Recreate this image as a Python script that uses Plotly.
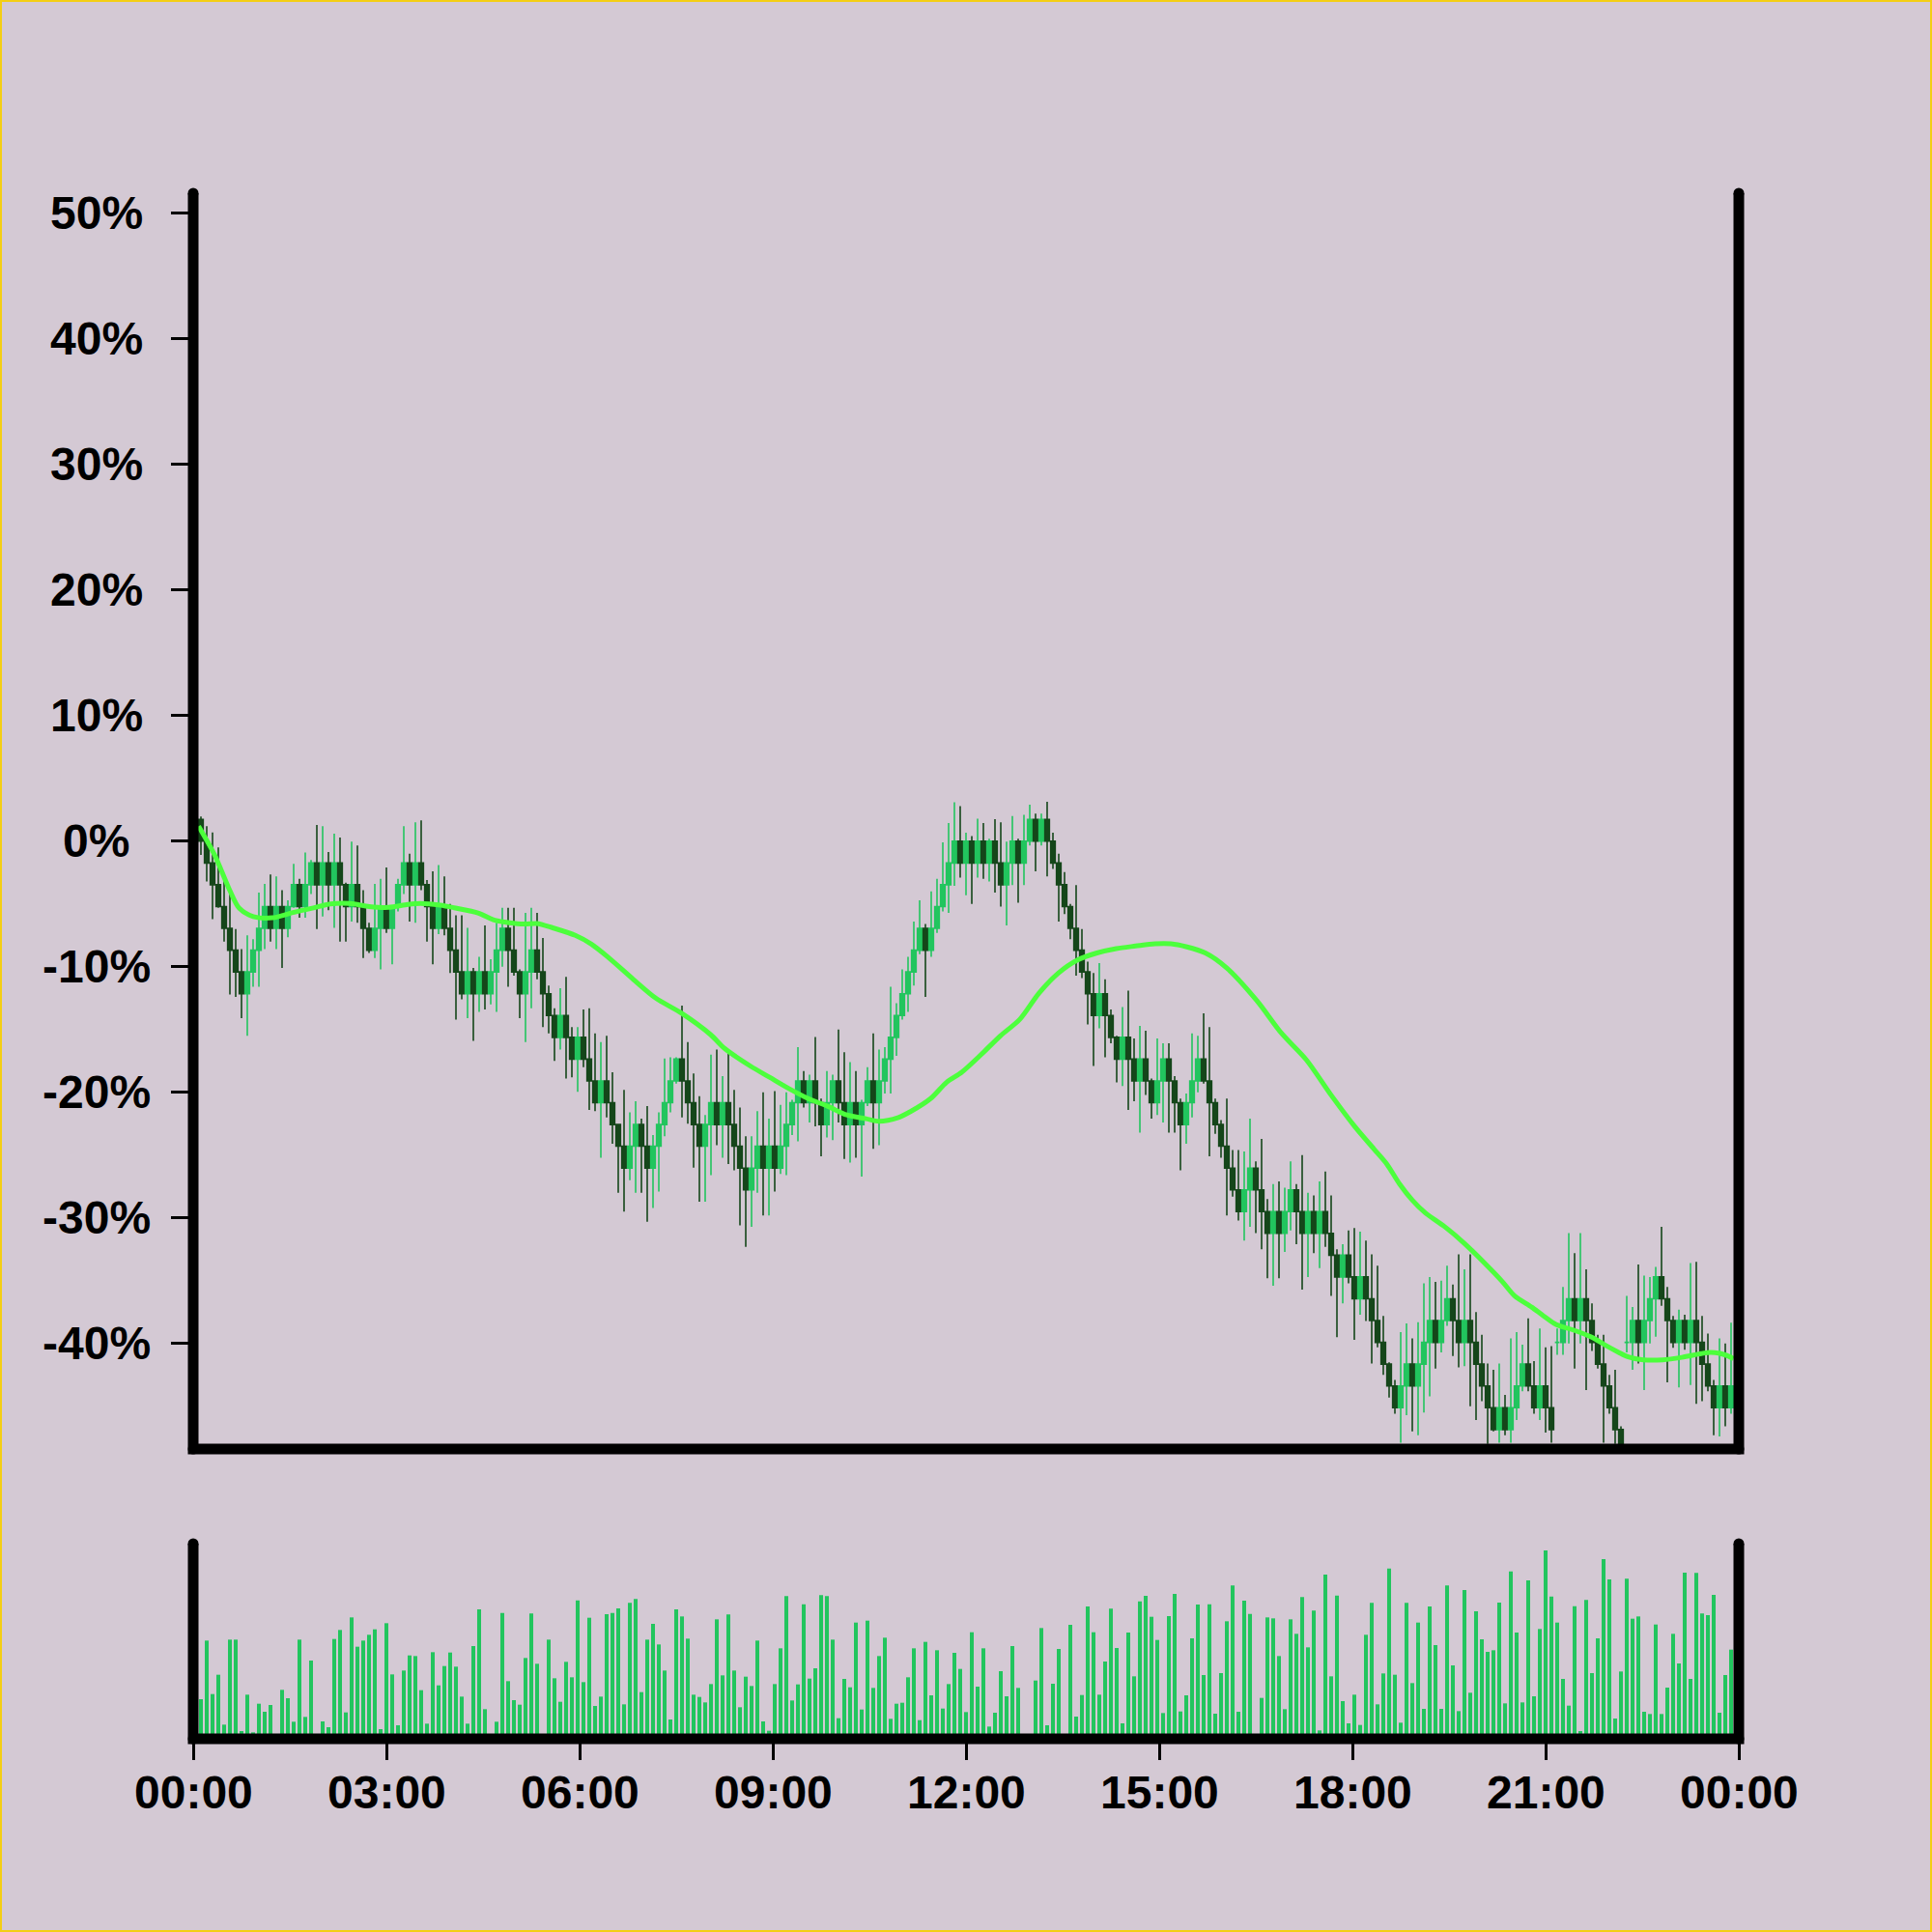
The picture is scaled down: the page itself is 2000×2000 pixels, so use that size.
import pandas as pd
import plotly.graph_objects as go

# ---------------- data ----------------
times = pd.date_range("2024-01-01 00:07:12", periods=265, freq="324s")

open_pct = [
    1.74, 0.0, -1.74, -3.47, -5.21, -6.94, -8.68, -10.41, -12.15, -10.41,
    -8.68, -6.94, -5.21, -6.94, -5.21, -6.94, -5.21, -3.47, -5.21, -3.47,
    -1.74, -3.47, -1.74, -3.47, -1.74, -3.47, -5.21, -3.47, -5.21, -6.94,
    -8.68, -6.94, -5.21, -6.94, -5.21, -3.47, -1.74, -3.47, -1.74, -3.47,
    -5.21, -6.94, -5.21, -6.94, -8.68, -10.41, -12.15, -10.41, -12.15, -10.41,
    -12.15, -10.41, -8.68, -6.94, -8.68, -10.41, -12.15, -10.41, -8.68, -10.41,
    -12.15, -13.88, -15.62, -13.88, -15.62, -17.35, -15.62, -17.35, -19.09, -20.82,
    -19.09, -20.82, -22.56, -24.29, -26.03, -24.29, -22.56, -24.29, -26.03, -24.29,
    -22.56, -20.82, -19.09, -17.35, -19.09, -20.82, -22.56, -24.29, -22.56, -20.82,
    -22.56, -20.82, -22.56, -24.29, -26.03, -27.76, -26.03, -24.29, -26.03, -24.29,
    -26.03, -24.29, -22.56, -20.82, -19.09, -20.82, -19.09, -20.82, -22.56, -20.82,
    -19.09, -20.82, -22.56, -20.82, -22.56, -20.82, -19.09, -20.82, -19.09, -17.35,
    -15.62, -13.88, -12.15, -10.41, -8.68, -6.94, -8.68, -6.94, -5.21, -3.47,
    -1.74, 0.0, -1.74, 0.0, -1.74, 0.0, -1.74, 0.0, -1.74, -3.47,
    -1.74, 0.0, -1.74, 0.0, 1.74, 0.0, 1.74, 0.0, -1.74, -3.47,
    -5.21, -6.94, -8.68, -10.41, -12.15, -13.88, -12.15, -13.88, -15.62, -17.35,
    -15.62, -17.35, -19.09, -17.35, -19.09, -20.82, -19.09, -17.35, -19.09, -20.82,
    -22.56, -20.82, -19.09, -17.35, -19.09, -20.82, -22.56, -24.29, -26.03, -27.76,
    -29.50, -27.76, -26.03, -27.76, -29.50, -31.23, -29.50, -31.23, -29.50, -27.76,
    -29.50, -31.23, -29.50, -31.23, -29.50, -31.23, -32.97, -34.70, -32.97, -34.70,
    -36.44, -34.70, -36.44, -38.17, -39.91, -41.64, -43.38, -45.11, -43.38, -41.64,
    -43.38, -41.64, -39.91, -38.17, -39.91, -38.17, -36.44, -38.17, -39.91, -38.17,
    -39.91, -41.64, -43.38, -45.11, -46.85, -45.11, -46.85, -45.11, -43.38, -41.64,
    -43.38, -45.11, -43.38, -45.11, -39.91, -39.91, -38.17, -36.44, -38.17, -36.44,
    -38.17, -39.91, -41.64, -43.38, -45.11, -46.85, -39.91, -39.91, -38.17, -39.91,
    -38.17, -36.44, -34.70, -36.44, -38.17, -39.91, -38.17, -39.91, -38.17, -39.91,
    -41.64, -43.38, -45.11, -43.38, -45.11,
]

close_pct = [
    0.0, -1.74, -3.47, -5.21, -6.94, -8.68, -10.41, -12.15, -10.41, -8.68,
    -6.94, -5.21, -6.94, -5.21, -6.94, -5.21, -3.47, -5.21, -3.47, -1.74,
    -3.47, -1.74, -3.47, -1.74, -3.47, -5.21, -3.47, -5.21, -6.94, -8.68,
    -6.94, -5.21, -6.94, -5.21, -3.47, -1.74, -3.47, -1.74, -3.47, -5.21,
    -6.94, -5.21, -6.94, -8.68, -10.41, -12.15, -10.41, -12.15, -10.41, -12.15,
    -10.41, -8.68, -6.94, -8.68, -10.41, -12.15, -10.41, -8.68, -10.41, -12.15,
    -13.88, -15.62, -13.88, -15.62, -17.35, -15.62, -17.35, -19.09, -20.82, -19.09,
    -20.82, -22.56, -24.29, -26.03, -24.29, -22.56, -24.29, -26.03, -24.29, -22.56,
    -20.82, -19.09, -17.35, -19.09, -20.82, -22.56, -24.29, -22.56, -20.82, -22.56,
    -20.82, -22.56, -24.29, -26.03, -27.76, -26.03, -24.29, -26.03, -24.29, -26.03,
    -24.29, -22.56, -20.82, -19.09, -20.82, -19.09, -20.82, -22.56, -20.82, -19.09,
    -20.82, -22.56, -20.82, -22.56, -20.82, -19.09, -20.82, -19.09, -17.35, -15.62,
    -13.88, -12.15, -10.41, -8.68, -6.94, -8.68, -6.94, -5.21, -3.47, -1.74,
    0.0, -1.74, 0.0, -1.74, 0.0, -1.74, 0.0, -1.74, -3.47, -1.74,
    0.0, -1.74, 0.0, 1.74, 0.0, 1.74, 0.0, -1.74, -3.47, -5.21,
    -6.94, -8.68, -10.41, -12.15, -13.88, -12.15, -13.88, -15.62, -17.35, -15.62,
    -17.35, -19.09, -17.35, -19.09, -20.82, -19.09, -17.35, -19.09, -20.82, -22.56,
    -20.82, -19.09, -17.35, -19.09, -20.82, -22.56, -24.29, -26.03, -27.76, -29.50,
    -27.76, -26.03, -27.76, -29.50, -31.23, -29.50, -31.23, -29.50, -27.76, -29.50,
    -31.23, -29.50, -31.23, -29.50, -31.23, -32.97, -34.70, -32.97, -34.70, -36.44,
    -34.70, -36.44, -38.17, -39.91, -41.64, -43.38, -45.11, -43.38, -41.64, -43.38,
    -41.64, -39.91, -38.17, -39.91, -38.17, -36.44, -38.17, -39.91, -38.17, -39.91,
    -41.64, -43.38, -45.11, -46.85, -45.11, -46.85, -45.11, -43.38, -41.64, -43.38,
    -45.11, -43.38, -45.11, -46.85, -39.91, -38.17, -36.44, -38.17, -36.44, -38.17,
    -39.91, -41.64, -43.38, -45.11, -46.85, -48.58, -39.91, -38.17, -39.91, -38.17,
    -36.44, -34.70, -36.44, -38.17, -39.91, -38.17, -39.91, -38.17, -39.91, -41.64,
    -43.38, -45.11, -43.38, -45.11, -43.38,
]

high_pct = [
    1.96, 1.2, 0.7, -0.5, -2.65, -4.2, -7.0, -8.6, -7.5, -7.8,
    -4.1, -3.4, -2.65, -2.8, -3.9, -4.7, -1.8, -3.0, -0.9, -1.5,
    1.3, 1.2, -0.86, 0.6, 0.3, -3.3, -0.04, -0.35, -3.9, -6.5,
    -3.4, -3.0, -2.1, -5.1, -3.0, 1.2, -1.0, 1.5, 1.65, -3.1,
    -2.4, -1.9, -2.8, -5.0, -5.9, -5.9, -6.9, -10.1, -9.2, -6.7,
    -9.4, -6.5, -5.3, -5.3, -5.3, -10.2, -5.7, -5.3, -5.7, -7.7,
    -11.5, -13.3, -11.7, -10.8, -14.8, -14.8, -13.4, -13.3, -15.3, -16.0,
    -15.5, -18.4, -22.5, -19.8, -21.6, -20.7, -22.1, -21.1, -23.4, -21.6,
    -17.3, -17.2, -17.2, -13.1, -16.0, -18.5, -20.3, -21.8, -17.0, -16.6,
    -18.7, -16.9, -19.8, -21.2, -23.5, -23.5, -21.5, -20.0, -22.1, -19.9,
    -21.0, -20.0, -20.6, -16.4, -18.3, -18.6, -15.6, -20.5, -18.3, -18.6,
    -15.0, -16.8, -17.6, -18.3, -20.6, -18.0, -15.3, -16.6, -16.4, -11.6,
    -12.9, -10.2, -9.2, -6.4, -4.7, -6.6, -4.0, -3.0, -0.1, 1.45,
    3.1, 2.8, 0.68, 0.4, 1.8, 1.45, 0.2, 1.75, 1.5, -0.04,
    2.0, 0.2, 2.1, 2.9, 2.2, 2.2, 3.14, 0.68, -1.0, -2.45,
    -5.0, -3.5, -7.0, -9.6, -10.5, -9.7, -11.0, -13.4, -15.5, -13.2,
    -11.9, -15.7, -14.7, -15.1, -18.9, -15.7, -16.1, -16.1, -18.7, -20.5,
    -20.1, -15.3, -15.5, -13.7, -14.8, -20.5, -22.2, -20.5, -24.6, -24.6,
    -24.7, -22.1, -25.5, -23.7, -28.5, -27.3, -27.1, -27.6, -25.5, -27.3,
    -25.0, -28.0, -28.2, -27.1, -26.3, -28.2, -32.5, -32.1, -31.0, -30.8,
    -31.1, -31.8, -32.9, -33.8, -37.8, -41.5, -42.9, -39.1, -38.4, -39.6,
    -38.3, -35.2, -34.7, -35.1, -35.0, -33.8, -35.3, -32.9, -34.1, -32.9,
    -37.5, -39.3, -41.6, -42.1, -41.6, -44.1, -39.6, -39.1, -40.1, -38.0,
    -41.4, -38.8, -40.3, -40.2, -38.8, -35.5, -31.2, -32.8, -31.2, -34.1,
    -36.8, -39.3, -39.3, -42.5, -42.1, -46.6, -36.2, -37.1, -33.7, -34.6,
    -34.7, -33.9, -30.7, -35.5, -37.8, -37.3, -37.7, -33.6, -33.5, -37.8,
    -39.2, -42.9, -39.6, -40.0, -38.35,
]

low_pct = [
    -1.1, -3.2, -6.2, -5.3, -8.0, -12.2, -12.4, -14.1, -15.5, -11.6,
    -11.6, -8.6, -8.0, -8.6, -10.1, -7.65, -5.3, -6.1, -6.1, -4.2,
    -7.0, -6.0, -5.5, -6.9, -8.0, -8.0, -6.4, -6.5, -9.3, -8.9,
    -9.3, -10.2, -7.3, -9.8, -5.6, -4.2, -6.4, -6.5, -3.9, -8.0,
    -9.8, -7.4, -7.5, -10.5, -14.2, -12.6, -14.1, -15.9, -13.6, -13.4,
    -13.0, -13.6, -10.0, -11.6, -10.7, -14.1, -16.0, -13.3, -11.0, -14.8,
    -15.3, -17.5, -16.6, -18.9, -18.8, -19.96, -18.0, -21.4, -21.5, -25.2,
    -22.0, -24.1, -28.0, -29.5, -27.0, -28.0, -28.0, -30.3, -29.2, -27.9,
    -23.5, -21.6, -19.3, -22.0, -22.5, -26.0, -28.7, -28.7, -26.6, -24.2,
    -25.2, -25.7, -26.2, -30.6, -32.3, -30.7, -28.0, -29.8, -29.8, -27.9,
    -26.5, -26.6, -23.4, -23.9, -21.2, -22.4, -22.7, -25.1, -23.6, -23.8,
    -22.4, -25.3, -25.6, -25.2, -26.7, -21.1, -24.5, -24.2, -20.1, -20.1,
    -17.1, -14.2, -13.6, -11.5, -9.0, -12.4, -9.2, -7.3, -5.6, -5.7,
    -3.55, -2.9, -4.3, -5.0, -2.9, -3.0, -3.2, -4.1, -5.2, -6.7,
    -3.5, -4.9, -3.5, -0.35, -2.4, -0.35, -2.8, -2.2, -6.4, -5.8,
    -7.8, -10.7, -10.9, -14.6, -17.9, -14.9, -17.2, -16.1, -19.2, -19.5,
    -21.4, -20.7, -23.2, -20.2, -22.1, -21.8, -22.4, -23.2, -23.2, -26.2,
    -24.1, -22.0, -20.0, -19.3, -25.1, -23.3, -25.2, -29.8, -28.3, -30.2,
    -31.8, -30.7, -31.2, -32.5, -34.8, -35.4, -34.8, -32.7, -31.0, -32.1,
    -35.7, -34.7, -32.8, -34.0, -32.3, -36.2, -39.5, -36.8, -35.2, -39.7,
    -37.7, -38.2, -41.6, -40.3, -42.5, -44.3, -45.6, -47.9, -45.7, -47.0,
    -47.3, -45.5, -44.2, -42.0, -40.7, -38.6, -41.0, -41.9, -41.8, -45.0,
    -46.1, -44.6, -48.0, -47.0, -47.9, -47.3, -47.9, -46.1, -43.8, -43.8,
    -45.6, -46.1, -47.1, -47.9, -40.9, -40.9, -40.0, -42.0, -40.0, -43.7,
    -40.6, -42.0, -47.9, -45.6, -48.0, -49.5, -40.7, -42.1, -41.6, -43.7,
    -40.0, -39.45, -37.0, -43.1, -40.35, -43.5, -40.5, -43.3, -44.8, -44.6,
    -43.8, -47.3, -47.4, -46.6, -45.6,
]

volume = [
    123, 305, 139, 199, 44, 308, 308, 24, 137, 20,
    109, 84, 105, 2, 152, 126, 53, 308, 68, 243,
    2, 54, 36, 310, 338, 82, 377, 286, 305, 323,
    340, 30, 359, 200, 42, 212, 259, 257, 151, 47,
    269, 166, 226, 268, 224, 131, 47, 288, 402, 92,
    2, 53, 391, 179, 120, 106, 251, 389, 233, 2,
    308, 188, 115, 239, 191, 430, 176, 376, 102, 131,
    387, 391, 405, 107, 422, 434, 145, 308, 357, 293,
    212, 60, 402, 380, 311, 137, 130, 113, 170, 371,
    197, 386, 212, 98, 193, 164, 305, 54, 25, 170,
    281, 443, 119, 169, 418, 187, 219, 446, 443, 308,
    64, 186, 160, 361, 91, 367, 158, 257, 314, 62,
    109, 112, 191, 281, 58, 301, 135, 275, 94, 170,
    267, 217, 83, 331, 162, 281, 38, 81, 210, 132,
    288, 158, 2, 2, 181, 344, 42, 171, 279, 2,
    354, 69, 136, 411, 331, 137, 240, 404, 282, 48,
    330, 194, 427, 444, 379, 307, 80, 381, 450, 85,
    135, 312, 417, 198, 418, 78, 204, 365, 476, 84,
    429, 388, 2, 127, 377, 374, 257, 92, 371, 326,
    440, 284, 398, 26, 510, 194, 445, 117, 48, 137,
    43, 323, 422, 107, 203, 529, 199, 50, 422, 173,
    361, 93, 411, 291, 93, 476, 228, 86, 462, 143,
    396, 309, 270, 275, 423, 110, 520, 330, 113, 492,
    132, 341, 585, 442, 361, 186, 103, 412, 24, 431,
    204, 312, 558, 495, 63, 209, 497, 373, 380, 84,
    77, 355, 77, 159, 326, 234, 516, 186, 515, 389,
    384, 447, 81, 198, 277,
]

ma_time = [
    "00:05", "00:20", "00:34", "00:43", "00:56", "01:14", "01:32", "01:50", "02:08", "02:26",
    "02:44", "03:02", "03:20", "03:32", "03:50", "04:03", "04:26", "04:41", "05:08", "05:20",
    "05:35", "05:56", "06:11", "06:26", "06:50", "07:11", "07:35", "08:02", "08:15", "08:39",
    "08:57", "09:15", "09:33", "09:51", "10:09", "10:27", "10:39", "10:57", "11:09", "11:27",
    "11:42", "11:56", "12:14", "12:32", "12:50", "13:08", "13:26", "13:44", "14:02", "14:20",
    "14:38", "14:56", "15:11", "15:25", "15:43", "16:03", "16:31", "16:54", "17:17", "17:40",
    "18:02", "18:20", "18:32", "18:44", "18:56", "19:08", "19:26", "19:44", "20:02", "20:20",
    "20:31", "20:47", "20:58", "21:10", "21:25", "21:43", "21:55", "22:08", "22:17", "22:31",
    "22:49", "23:07", "23:25", "23:34", "23:47", "23:55",
]
ma_value = [
    1.2, -1.1, -3.9, -5.35, -6.0, -6.1, -5.7, -5.35, -5.0, -4.96,
    -5.2, -5.27, -5.04, -4.96, -5.1, -5.3, -5.73, -6.3, -6.6, -6.55,
    -6.9, -7.5, -8.2, -9.2, -11.0, -12.5, -13.7, -15.4, -16.5, -17.9,
    -18.8, -19.7, -20.5, -21.1, -21.8, -22.1, -22.3, -22.0, -21.5, -20.5,
    -19.2, -18.4, -17.0, -15.5, -14.2, -12.1, -10.5, -9.45, -8.9, -8.55,
    -8.35, -8.17, -8.17, -8.4, -8.9, -10.1, -12.7, -15.3, -17.4, -20.2,
    -22.7, -24.5, -25.7, -27.3, -28.6, -29.6, -30.7, -32.0, -33.5, -35.1,
    -36.2, -37.1, -37.8, -38.5, -38.9, -39.5, -40.1, -40.7, -41.07, -41.3,
    -41.3, -41.1, -40.8, -40.7, -40.9, -41.2,
]

y_tick_values = [50, 40, 30, 20, 10, 0, -10, -20, -30, -40]
y_tick_labels = ["50%", "40%", "30%", "20%", "10%", "0%", "-10%", "-20%", "-30%", "-40%"]
x_tick_values = ["2024-01-01 00:00", "2024-01-01 03:00", "2024-01-01 06:00", "2024-01-01 09:00",
                 "2024-01-01 12:00", "2024-01-01 15:00", "2024-01-01 18:00", "2024-01-01 21:00",
                 "2024-01-02 00:00"]
x_tick_labels = ["00:00", "03:00", "06:00", "09:00", "12:00", "15:00", "18:00", "21:00", "00:00"]

# ---------------- style ----------------
BG = "#d4c9d4"
INC = "#22c55e"
DEC = "#15461a"
MA_COLOR = "#4cff3c"
FONT = dict(family="Liberation Sans, Arial, sans-serif", size=48, color="black", weight="bold")
LW = 11
PRICE_BOTTOM = 0.1875
VOL_TOP = 0.12625

ma_x = ["2024-01-01 " + t for t in ma_time]

fig = go.Figure()
fig.add_trace(go.Candlestick(
    x=times, open=open_pct, high=high_pct, low=low_pct, close=close_pct,
    increasing=dict(line=dict(color=INC, width=1.6), fillcolor=INC),
    decreasing=dict(line=dict(color=DEC, width=1.6), fillcolor=DEC),
    whiskerwidth=0, xaxis="x", yaxis="y", showlegend=False, hoverinfo="skip",
))
fig.add_trace(go.Scatter(
    x=ma_x, y=ma_value, mode="lines",
    line=dict(color=MA_COLOR, width=5, shape="spline", smoothing=0.8),
    xaxis="x", yaxis="y", showlegend=False, hoverinfo="skip",
))
fig.add_trace(go.Bar(
    x=times, y=volume, marker=dict(color=INC, line=dict(width=0)),
    xaxis="x2", yaxis="y2", showlegend=False, hoverinfo="skip",
))

xr = ["2024-01-01 00:00", "2024-01-02 00:00"]
fig.update_layout(
    width=2000, height=2000,
    paper_bgcolor=BG, plot_bgcolor=BG,
    margin=dict(l=200, r=200, t=200, b=200),
    bargap=0.33, boxgap=0.22, boxgroupgap=0,
    xaxis=dict(domain=[0, 1], anchor="y", range=xr, type="date",
               showticklabels=False, ticks="", showgrid=False, zeroline=False,
               showline=False, rangeslider=dict(visible=False)),
    yaxis=dict(domain=[PRICE_BOTTOM, 1], range=[-48.4, 51.6], tickvals=y_tick_values,
               showticklabels=False, ticks="outside", ticklen=22, tickwidth=3.3,
               tickcolor="black", showgrid=False, zeroline=False, showline=False),
    xaxis2=dict(domain=[0, 1], anchor="y2", range=xr, type="date",
                tickvals=x_tick_values, showticklabels=False,
                ticks="outside", ticklen=21, tickwidth=3.3, tickcolor="black",
                showgrid=False, zeroline=False, showline=False),
    yaxis2=dict(domain=[0, VOL_TOP], range=[0, 606], showticklabels=False, ticks="",
                showgrid=False, zeroline=False, showline=False),
)

# tick labels as centred text, matching the reference placement
for v, t in zip(y_tick_values, y_tick_labels):
    fig.add_annotation(x=-0.0628, xref="paper", y=v, yref="y", text=t,
                       showarrow=False, xanchor="center", yanchor="middle", font=FONT)
for v, t in zip(x_tick_values, x_tick_labels):
    fig.add_annotation(x=v, xref="x2", y=-0.035, yref="paper", text=t,
                       showarrow=False, xanchor="center", yanchor="middle", font=FONT)

# frames
shapes = [
    dict(type="path", xref="paper", yref="paper",
         path=f"M 0,1 L 0,{PRICE_BOTTOM} L 1,{PRICE_BOTTOM} L 1,1",
         line=dict(color="black", width=LW)),
    dict(type="path", xref="paper", yref="paper",
         path=f"M 0,{VOL_TOP} L 0,0 L 1,0 L 1,{VOL_TOP}",
         line=dict(color="black", width=LW)),
]
r = LW / 2 / 1600
for (cx, cy) in [(0, 1), (1, 1), (0, PRICE_BOTTOM), (1, PRICE_BOTTOM),
                 (0, VOL_TOP), (1, VOL_TOP), (0, 0), (1, 0)]:
    shapes.append(dict(type="circle", xref="paper", yref="paper",
                       x0=cx - r, x1=cx + r, y0=cy - r, y1=cy + r,
                       fillcolor="black", line=dict(width=0)))
# thin golden page border
shapes.append(dict(type="rect", xref="paper", yref="paper",
                   x0=-0.125, x1=1.125, y0=-0.125, y1=1.125,
                   line=dict(color="#f4ce14", width=4), fillcolor="rgba(0,0,0,0)"))
fig.update_layout(shapes=shapes)

fig.write_html("out.html", config={"displayModeBar": False},
               post_script="document.body.style.margin='0px';document.body.style.padding='0px';")
